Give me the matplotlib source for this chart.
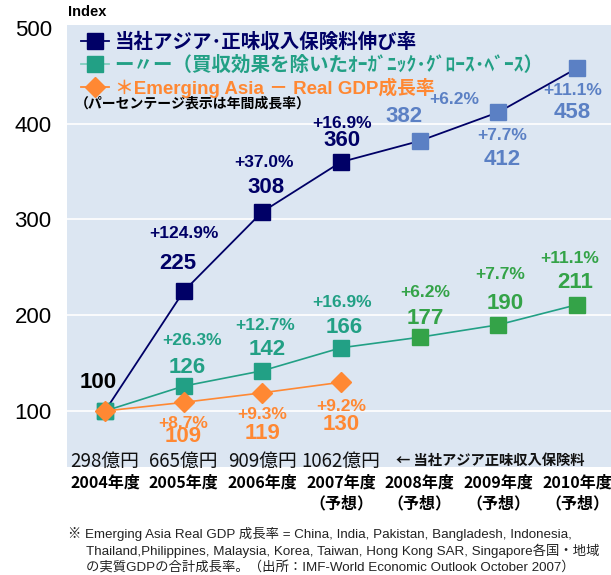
import matplotlib
matplotlib.use("Agg")
import matplotlib.pyplot as plt
from matplotlib.lines import Line2D

plt.rcParams['font.family'] = ['Noto Sans CJK JP', 'DejaVu Sans']

years = ["2004年度", "2005年度", "2006年度", "2007年度", "2008年度", "2009年度", "2010年度"]
year_sub = ["", "", "", "（予想）", "（予想）", "（予想）", "（予想）"]
premium_idx = [100, 225, 308, 360, 382, 412, 458]
premium_growth = ["", "+124.9%", "+37.0%", "+16.9%", "+6.2%", "+7.7%", "+11.1%"]
organic_idx = [100, 126, 142, 166, 177, 190, 211]
organic_growth = ["", "+26.3%", "+12.7%", "+16.9%", "+6.2%", "+7.7%", "+11.1%"]
gdp_idx = [100, 109, 119, 130]
gdp_growth = ["", "+8.7%", "+9.3%", "+9.2%"]
amounts = ["298億円", "665億円", "909億円", "1062億円"]
yticks = [100, 200, 300, 400, 500]

NAVY = "#000066"
NAVY_F = "#5b80c4"
TEAL = "#22a085"
GREEN_F = "#34a348"
ORANGE = "#ff8833"
BG = "#dce6f2"

fig = plt.figure(figsize=(6.11, 5.75), dpi=100)
ax = fig.add_axes([67/611, 1-467/575, 1-67/611, (467-25)/575])
ax.set_facecolor(BG)
for s in ax.spines.values():
    s.set_visible(False)
ax.set_xlim(-0.483, 6.432)
ax.set_ylim(41.5, 503.1)
ax.set_yticks(yticks)
ax.set_yticklabels([str(v) for v in yticks], fontsize=16, family='Liberation Sans')
ax.tick_params(axis='y', length=0, pad=11)
ax.set_xticks([])
for v in yticks[:-1]:
    ax.axhline(v, color='white', lw=1.2, zorder=1)

x = list(range(len(years)))
ms = 11
# organic line
ax.plot(x, organic_idx, color=TEAL, lw=1.2, zorder=2)
for i, v in enumerate(organic_idx):
    ax.plot(i, v, 's', ms=ms, color=TEAL if i < 4 else GREEN_F, zorder=3)
# premium line
ax.plot(x, premium_idx, color=NAVY, lw=1.3, zorder=2)
for i, v in enumerate(premium_idx):
    if i == 0:
        continue
    ax.plot(i, v, 's', ms=ms, color=NAVY if i < 4 else NAVY_F, zorder=3)
ax.plot(0, premium_idx[0], 's', ms=ms, color=TEAL, zorder=3)
# GDP line
xg = list(range(len(gdp_idx)))
ax.plot(xg, gdp_idx, color=ORANGE, lw=1.2, zorder=4)
ax.plot(xg, gdp_idx, 'D', ms=10.5, color=ORANGE, zorder=5)

LBL = dict(family='Liberation Sans', fontweight='bold', ha='center', va='center',
           textcoords='offset pixels', zorder=6)

def lab(i, v, text, dx, dy, color, size):
    ax.annotate(text, (i, v), xytext=(dx, dy), color=color, fontsize=size, **LBL)

ax.annotate("100", (0, 100), xytext=(-7, 28), color='black', fontsize=16, **LBL)

prem_off = [None, ((-6, 28), (0, 58)), ((4, 24), (2, 49)), ((1, 22), (1, 39)),
            ((-16, 24), (35, 41)), ((4, -47), (4, -23)), ((-5, -44), (-4, -22))]
for i in range(1, 7):
    c = NAVY if i < 4 else NAVY_F
    (vd, gd) = prem_off[i]
    lab(i, premium_idx[i], str(premium_idx[i]), vd[0], vd[1], c, 16)
    lab(i, premium_idx[i], premium_growth[i], gd[0], gd[1], c, 12.5)

org_off = [None, ((4, 19), (8, 46)), ((5, 21), (3, 45)), ((3, 20), (1, 45)),
           ((6, 19), (6, 45)), ((7, 21), (2, 50)), ((-2, 22), (-7, 46))]
for i in range(1, 7):
    c = TEAL if i < 4 else GREEN_F
    (vd, gd) = org_off[i]
    lab(i, organic_idx[i], str(organic_idx[i]), vd[0], vd[1], c, 16)
    lab(i, organic_idx[i], organic_growth[i], gd[0], gd[1], c, 12.5)

gdp_off = [None, ((0, -34), (0, -21)), ((0, -41), (0, -22)), ((0, -42), (0, -24))]
for i in range(1, 4):
    (vd, gd) = gdp_off[i]
    lab(i, gdp_idx[i], str(gdp_idx[i]), vd[0], vd[1], ORANGE, 16)
    lab(i, gdp_idx[i], gdp_growth[i], gd[0], gd[1], ORANGE, 12.5)

# amounts row
for i, a in enumerate(amounts):
    ax.text(i, 0.0136, a, transform=ax.get_xaxis_transform(), ha='center', va='center',
            fontsize=13.5, color='#111111', zorder=6)
ax.text(3.70, 0.0136, "← 当社アジア正味収入保険料", transform=ax.get_xaxis_transform(),
        ha='left', va='center', fontsize=10.3, fontweight='bold', color='#111111', zorder=6)

# x labels
for i in x:
    ax.text(i, -(483-467)/442, years[i], transform=ax.get_xaxis_transform(),
            ha='center', va='center', fontsize=11.5, fontweight='bold', color='black')
    if year_sub[i]:
        ax.text(i, -(503-467)/442, year_sub[i], transform=ax.get_xaxis_transform(),
                ha='center', va='center', fontsize=11.5, fontweight='bold', color='black')

# legend
handles = [
    Line2D([], [], color=NAVY, marker='s', ms=12, lw=1.3),
    Line2D([], [], color="#7fcfc0", marker='s', ms=12, mfc=TEAL, mec=TEAL, lw=1.3),
    Line2D([], [], color=ORANGE, marker='D', ms=10, lw=1.3),
]
labels = ["当社アジア･正味収入保険料伸び率",
          "ー〃ー（買収効果を除いたｵｰｶﾞﾆｯｸ･ｸﾞﾛｰｽ･ﾍﾞｰｽ）",
          "＊Emerging Asia － Real GDP成長率"]
leg = ax.legend(handles, labels, loc='upper left', bbox_to_anchor=(0.0, 1.014),
                frameon=False, handlelength=1.45, handletextpad=0.3, labelspacing=0.18,
                borderaxespad=0.3,
                prop=dict(family=['Noto Sans CJK JP', 'DejaVu Sans'], weight='bold', size=14))
for t, c in zip(leg.get_texts(), [NAVY, TEAL, ORANGE]):
    t.set_color(c)
leg.get_texts()[2].set_fontfamily(['Liberation Sans', 'Noto Sans CJK JP'])
leg.get_texts()[2].set_fontsize(13.5)
ax.text(8/544, 1-(104-25)/442, "（パーセンテージ表示は年間成長率）", transform=ax.transAxes,
        ha='left', va='center', fontsize=10, fontweight='bold', color='black')

fig.text(68/611, 1-12/575, "Index", ha='left', va='center', fontsize=10.5,
         fontweight='bold', family='Liberation Sans')

FF = ['Liberation Sans', 'Noto Sans CJK JP']
foot = ["※ Emerging Asia Real GDP 成長率 = China, India, Pakistan, Bangladesh, Indonesia,",
        "Thailand,Philippines, Malaysia, Korea, Taiwan, Hong Kong SAR, Singapore各国・地域",
        "の実質GDPの合計成長率。（出所：IMF-World Economic Outlook October 2007）"]
fig.text(68/611, 1-534/575, foot[0], ha='left', va='center', fontsize=9.6, color='#222222', family=FF)
fig.text(86/611, 1-551/575, foot[1], ha='left', va='center', fontsize=9.6, color='#222222', family=FF)
fig.text(86/611, 1-567/575, foot[2], ha='left', va='center', fontsize=9.6, color='#222222', family=FF)

fig.savefig("out.png", dpi=100, facecolor='white')
